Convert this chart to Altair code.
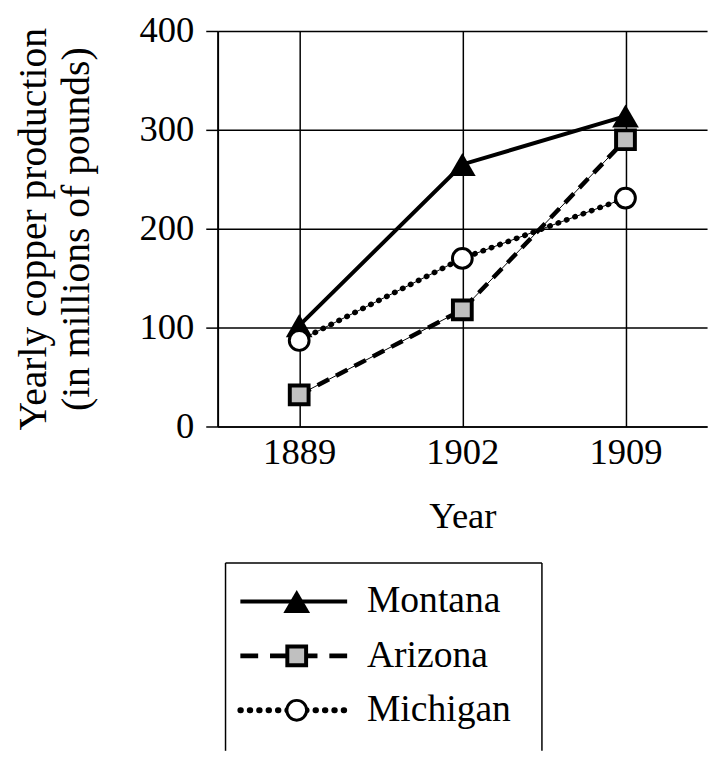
import altair as alt
import pandas as pd

years = ["1889", "1902", "1909"]
series = ["Montana", "Arizona", "Michigan"]
montana = [102, 265, 314]
arizona = [32, 118, 290]
michigan = [87, 170, 231]
y_ticks = [0, 100, 200, 300, 400]

rows = []
for name, vals in zip(series, [montana, arizona, michigan]):
    for yr, v in zip(years, vals):
        rows.append({"Year": yr, "series": name, "value": v})
df = pd.DataFrame(rows)
legend_df = pd.DataFrame({"series": series})
box_df = pd.DataFrame({"k": [0]})

FONT = "Liberation Serif"
FS = 37

x_enc = alt.X(
    "Year:O", sort=years,
    scale=alt.Scale(type="point", padding=0.5),
    axis=alt.Axis(
        title="Year", labelAngle=0, ticks=False, grid=True,
        gridColor="black", gridWidth=1.5, gridOpacity=1,
        domainColor="black", domainWidth=1.5,
        labelPadding=8, titlePadding=29,
        labelFontSize=FS, titleFontSize=FS, labelFont=FONT, titleFont=FONT,
        titleFontWeight="normal", labelColor="black", titleColor="black",
    ),
)
y_enc = alt.Y(
    "value:Q",
    scale=alt.Scale(domain=[0, 400], nice=False),
    axis=alt.Axis(
        values=y_ticks, title=["Yearly copper production", "(in millions of pounds)"],
        grid=True, gridColor="black", gridWidth=1.5, gridOpacity=1,
        domainColor="black", domainWidth=2,
        ticks=True, tickSize=12, tickColor="black", tickWidth=1.5,
        labelPadding=12, titlePadding=43, titleLineHeight=44,
        labelFontSize=FS, titleFontSize=40, labelFont=FONT, titleFont=FONT,
        titleFontWeight="normal", labelColor="black", titleColor="black",
    ),
)

base = alt.Chart(df).encode(x=x_enc, y=y_enc)


def sel(name):
    return base.transform_filter(alt.datum.series == name)


thin = base.transform_filter("datum.series != 'Montana'").mark_line(
    color="black", strokeWidth=1
).encode(detail="series:N")
mont_line = sel("Montana").mark_line(color="black", strokeWidth=4)
ariz_line = sel("Arizona").mark_line(color="black", strokeWidth=4.5, strokeDash=[13, 8])
mich_line = sel("Michigan").mark_line(
    color="black", strokeWidth=5.5, strokeDash=[0.5, 8.5], strokeCap="round"
)
mont_pts = sel("Montana").mark_point(
    shape="triangle-up", size=729, filled=True, fill="black", opacity=1
)
ariz_pts = sel("Arizona").mark_point(
    shape="square", size=361, filled=True, fill="#c0c0c0", stroke="black",
    strokeWidth=4, opacity=1, fillOpacity=1, strokeOpacity=1
)
mich_pts = sel("Michigan").mark_point(
    shape="circle", size=400, filled=True, fill="white", stroke="black",
    strokeWidth=3, opacity=1, fillOpacity=1, strokeOpacity=1
)

top = alt.layer(
    thin, mont_line, ariz_line, mich_line, mont_pts, ariz_pts, mich_pts
).properties(width=495, height=400)

# Legend panel
LH = 190
ly = alt.Y("series:N", sort=series, scale=alt.Scale(type="point", range=[39, 149], padding=0), axis=None)
leg = alt.Chart(legend_df)


def lsel(name):
    return leg.transform_filter(alt.datum.series == name)


box = alt.Chart(box_df)
box_top = box.mark_rule(color="black", strokeWidth=1.5).encode(
    x=alt.value(8), x2=alt.value(328), y=alt.value(0)
)
box_left = box.mark_rule(color="black", strokeWidth=1.5).encode(
    x=alt.value(8), y=alt.value(0), y2=alt.value(LH)
)
box_right = box.mark_rule(color="black", strokeWidth=1.5).encode(
    x=alt.value(328), y=alt.value(0), y2=alt.value(LH)
)

lm = lsel("Montana").mark_rule(color="black", strokeWidth=4).encode(
    x=alt.value(23), x2=alt.value(131), y=ly)
la = lsel("Arizona").mark_rule(color="black", strokeWidth=5, strokeDash=[18, 12]).encode(
    x=alt.value(23), x2=alt.value(131), y=ly)
lmi = lsel("Michigan").mark_rule(
    color="black", strokeWidth=6, strokeDash=[0.5, 9], strokeCap="round"
).encode(x=alt.value(23), x2=alt.value(131), y=ly)
lpm = lsel("Montana").mark_point(
    shape="triangle-up", size=729, filled=True, fill="black", opacity=1
).encode(x=alt.value(80), y=ly)
lpa = lsel("Arizona").mark_point(
    shape="square", size=361, filled=True, fill="#c0c0c0", stroke="black",
    strokeWidth=4, opacity=1, fillOpacity=1, strokeOpacity=1
).encode(x=alt.value(80), y=ly)
lpmi = lsel("Michigan").mark_point(
    shape="circle", size=400, filled=True, fill="white", stroke="black",
    strokeWidth=3, opacity=1, fillOpacity=1, strokeOpacity=1
).encode(x=alt.value(80), y=ly)
ltext = leg.mark_text(
    align="left", baseline="middle", font=FONT, fontSize=38, color="black"
).encode(x=alt.value(151), y=ly, text="series:N")

legend_chart = alt.layer(
    box_top, box_left, box_right, lm, la, lmi, lpm, lpa, lpmi, ltext
).properties(width=340, height=LH)

chart = alt.vconcat(
    top, legend_chart, spacing=138, bounds="flush",
    padding={"left": 5, "top": 0, "right": 5, "bottom": 0},
).configure_view(strokeWidth=0)

chart.save("out.html", embed_options={"renderer": "svg", "actions": False})
